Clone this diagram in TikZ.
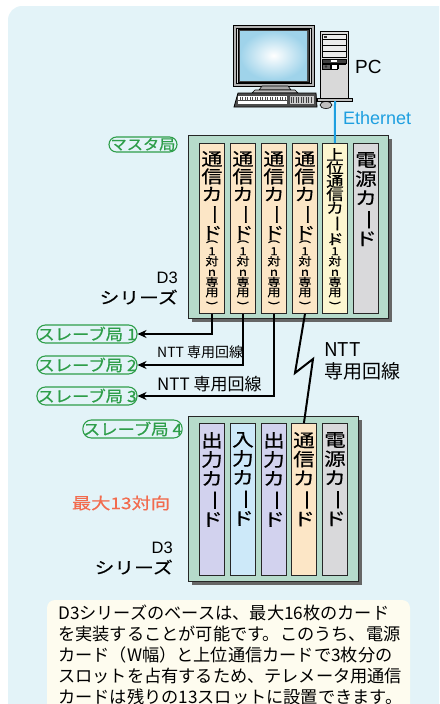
\documentclass[tikz,border=0pt]{standalone}
\usepackage{fontspec}
\setmainfont{Noto Sans CJK JP}
\newfontfamily\cardfont[FakeStretch=1.2,FakeBold=0.4]{Noto Sans CJK JP}
\newfontfamily\pillfont[FakeStretch=1.12,FakeBold=0.8]{Noto Sans CJK JP}
\newfontfamily\latinfont{Liberation Sans}
\usetikzlibrary{arrows.meta}

\definecolor{bgblue}{HTML}{E3F3F8}
\definecolor{rackgreen}{HTML}{B6DBCB}
\definecolor{cardorange}{HTML}{FCE6C6}
\definecolor{cardyellow}{HTML}{FDF6D0}
\definecolor{cardgray}{HTML}{D9D9DB}
\definecolor{cardviolet}{HTML}{D2D2EE}
\definecolor{cardcyan}{HTML}{CDE9F9}
\definecolor{pillgreen}{HTML}{2E9E4A}
\definecolor{ethblue}{HTML}{1E9FE0}
\definecolor{salmon}{HTML}{F26B4E}
\definecolor{notecream}{HTML}{FEFCEF}
\definecolor{screenblue}{HTML}{9FD3EA}

% vertical forms for tategaki: long-vowel mark and parentheses
\newcommand\chouon{\rotatebox[origin=c]{-90}{ー}}
\newcommand\vopen{\rotatebox[origin=c]{-90}{(}}
\newcommand\vclose{\rotatebox[origin=c]{-90}{)}}

\begin{document}
\begin{tikzpicture}[x=1pt,y=-1pt,
  rack/.style={fill=rackgreen,draw=black!85,line width=0.9pt},
  rackshadow/.style={fill=black!60},
  card/.style={draw=black!85,line width=0.9pt,anchor=north west,
    minimum width=25pt,inner sep=0pt},
  mcard/.style={card,minimum height=170pt},
  scard/.style={card,minimum height=152pt},
  tate/.style={anchor=north,inner sep=0pt,align=center},
  bigtate/.style={tate,font=\cardfont\fontsize{18}{19}\selectfont},
  midtate/.style={tate,font=\cardfont\fontsize{17.5}{17.6}\selectfont},
  smalltate/.style={tate,font=\cardfont\fontsize{11}{10.3}\selectfont},
  pill/.style={draw=pillgreen,line width=1.1pt,text=pillgreen,rounded corners=8.5pt,
    minimum height=18pt,inner sep=0pt,font=\pillfont\fontsize{15.5}{16}\selectfont},
  conn/.style={line width=2pt,-{Stealth[length=9pt,width=8pt]}},
  label/.style={inner sep=0pt},
]
\clip (0,0) rectangle (439,704);
\useasboundingbox (0,0) rectangle (439,704);

% panel background
\fill[bgblue,rounded corners=14pt] (8,6) rectangle (480,760);

% ---------- personal computer ----------
% monitor
\draw[fill=black!30,line width=0.8pt] (233,25) rectangle (314,86);
\draw[fill=black!15,line width=0.5pt] (236,28) rectangle (311,83);
\draw[fill=black!75] (238,29) rectangle (309,82);
\shade[inner color=white,outer color=screenblue] (240,31) rectangle (307,80);
% stand
\draw[fill=black!35,line width=0.6pt] (262,86) -- (288,86) -- (291,90) -- (259,90) -- cycle;
\draw[fill=black!25,line width=0.6pt] (255,90) -- (295,90) -- (298,93) -- (252,93) -- cycle;
% keyboard
\draw[fill=black!70,line width=0.8pt] (238,93) -- (316,93) -- (317,107) -- (234,107) -- cycle;
\fill[white] (238,96) rectangle (287,104);
\foreach \k in {240,242.5,...,286}{\draw[black!70,line width=0.4pt] (\k,96.5) -- (\k,99.5);}
\draw[black!70,line width=0.4pt] (238,100) -- (287,100);
\fill[black!20] (290,96) rectangle (314,104);
\foreach \k in {291,293.5,...,313}{\draw[black!75,line width=0.5pt] (\k,97) -- (\k,103);}
% mouse
\draw[fill=black!25,line width=0.6pt] (326,105) ellipse (6 and 3.5);
% tower
\draw[fill=black!15,line width=0.8pt] (320,31) rectangle (348,98);
\draw[fill=black!25,line width=0.8pt] (317,98) rectangle (352,101);
\draw[fill=black!8,line width=0.5pt] (322,34) rectangle (346,39);
\draw[fill=black!8,line width=0.5pt] (322,39) rectangle (346,45);
\draw[fill=black!8,line width=0.5pt] (322,45) rectangle (346,51);
\draw[fill=black!8,line width=0.5pt] (322,51) rectangle (346,57);
\fill[black!80] (324,36) rectangle (327,37.5);
\draw[fill=black!75,line width=0.5pt] (322,59) rectangle (346,63);
\fill[white] (331,60) rectangle (337,62);
\draw[fill=black!60,line width=0.5pt] (322,64) rectangle (330,69);
\draw[fill=white,line width=0.5pt] (331,64) rectangle (337,69);
\draw[line width=0.5pt] (346,64) -- (338,64) -- (338,69);
\fill[black!80] (326,66.5) circle (1.3);
\coordinate (pcport) at (335,101);
\node[label,font=\latinfont\fontsize{19}{19}\selectfont,anchor=west] (pc) at (355,67) {PC};

% ---------- master station rack ----------
\fill[rackshadow] (192,139) rectangle (392,322);
\draw[rack] (188,135) rectangle (388,318);
\node[mcard,fill=cardorange] (m1) at (199,143) {};
\node[mcard,fill=cardorange] (m2) at (230,143) {};
\node[mcard,fill=cardorange] (m3) at (261,143) {};
\node[mcard,fill=cardorange] (m4) at (292,143) {};
\node[mcard,fill=cardyellow] (m5) at (322,143) {};
\node[mcard,fill=cardgray]   (m6) at (353,143) {};

\foreach \c in {m1,m2,m3,m4}{
  \node[midtate] at ([yshift=-8pt]\c.north) {通\\信\\カ\\\chouon\\ド};
  \node[smalltate] at ([yshift=-96pt]\c.north) {\vopen\\1\\対\\\textit{n}\\専\\用\\\vclose};
}
\node[tate,font=\cardfont\fontsize{14.5}{13.3}\selectfont] at ([yshift=-5pt]m5.north)
  {上\\位\\通\\信\\カ\\\chouon\\ド};
\node[smalltate] at ([yshift=-96pt]m5.north) {\vopen\\1\\対\\\textit{n}\\専\\用\\\vclose};
\node[bigtate] at ([yshift=-9pt]m6.north) {電\\源\\カ\\\chouon\\ド};

\node[pill,minimum width=68pt,minimum height=15pt,rounded corners=7.5pt,
  font=\pillfont\fontsize{14.5}{14.5}\selectfont] (master) at (143,144.5) {マスタ局};
\node[label,align=right,anchor=north east,font=\cardfont\fontsize{16.5}{20}\selectfont]
  (d3a) at (178,272) {\latinfont D3\\シリーズ};

% Ethernet link
\draw[ethblue,line width=2pt] (pcport) -- (m5.north);
\node[label,anchor=west,text=ethblue,font=\latinfont\fontsize{18}{18}\selectfont]
  (eth) at (343,118) {Ethernet};

% ---------- slave stations ----------
\node[pill,minimum width=100pt] (p1) at (87,334) {スレーブ局 1};
\node[pill,minimum width=100pt] (p2) at (87,365) {スレーブ局 2};
\node[pill,minimum width=100pt] (p3) at (87,396) {スレーブ局 3};
\node[pill,minimum width=99pt]  (p4) at (132.5,429) {スレーブ局 4};

\draw[conn] (m1.south) |- (p1.east);
\draw[conn] (m2.south) |- (p2.east);
\draw[conn] (m3.south) |- (p3.east);

\node[label,anchor=west,font=\fontsize{14}{14}\selectfont] (ntt1) at (157,352) {NTT 専用回線};
\node[label,anchor=west,font=\fontsize{17}{17}\selectfont] (ntt2) at (157,384) {NTT 専用回線};
\node[label,anchor=north west,align=left,font=\fontsize{19}{22}\selectfont] (ntt3) at (324,342)
  {NTT\\専用回線};

% slave station 4 rack
\fill[rackshadow] (192,420) rectangle (362,585);
\draw[rack] (188,416) rectangle (358,581);
\node[scard,fill=cardviolet] (s1) at (199,423) {};
\node[scard,fill=cardcyan]   (s2) at (230,423) {};
\node[scard,fill=cardviolet] (s3) at (261,423) {};
\node[scard,fill=cardorange] (s4) at (291,423) {};
\node[scard,fill=cardgray]   (s5) at (322,423) {};
\node[bigtate] at ([yshift=-9pt]s1.north) {出\\力\\カ\\\chouon\\ド};
\node[bigtate] at ([yshift=-9pt]s2.north) {入\\力\\カ\\\chouon\\ド};
\node[bigtate] at ([yshift=-9pt]s3.north) {出\\力\\カ\\\chouon\\ド};
\node[bigtate] at ([yshift=-9pt]s4.north) {通\\信\\カ\\\chouon\\ド};
\node[bigtate] at ([yshift=-9pt]s5.north) {電\\源\\カ\\\chouon\\ド};

% leased line to slave station 4 (zigzag)
\draw[line width=2pt,line join=miter] (m4.south) -- (295,373) -- (313,359) -- (s4.north);

\node[label,text=salmon,font=\cardfont\fontsize{16}{16}\selectfont] (max13) at (121,503) {最大13対向};
\node[label,align=right,anchor=north east,font=\cardfont\fontsize{16.5}{20}\selectfont]
  (d3b) at (173,542) {\latinfont D3\\シリーズ};

% ---------- note ----------
\fill[notecream,rounded corners=8pt] (47,600) rectangle (410,740);
\node[label,anchor=north west,align=left,font=\fontsize{17.2}{20.8}\selectfont] (note) at (58,605)
  {D3シリーズのベースは、最大16枚のカード\\
   を実装することが可能です。このうち、電源\\
   カード（W幅）と上位通信カードで3枚分の\\
   スロットを占有するため、テレメータ用通信\\
   カードは残りの13スロットに設置できます。};
\end{tikzpicture}
\end{document}
